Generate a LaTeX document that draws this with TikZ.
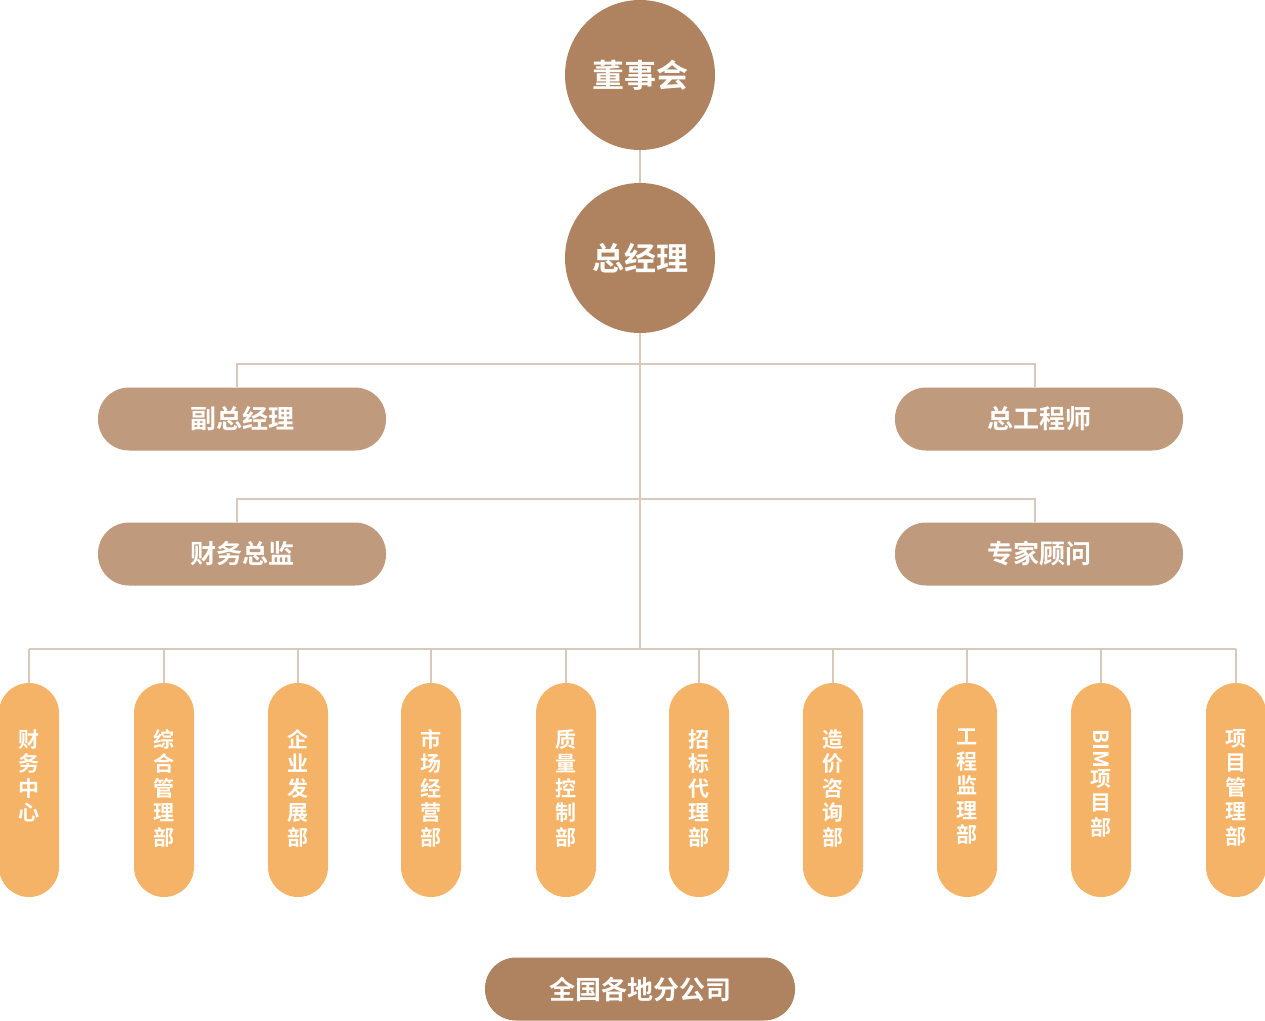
\documentclass[tikz,border=0pt]{standalone}
\usepackage{fontspec}
\newfontfamily\cjk{Noto Sans CJK SC}[BoldFont={Noto Sans CJK SC Bold}]
\usepackage{graphicx}
\definecolor{circ}{HTML}{AF8360}
\definecolor{pill}{HTML}{C09A7C}
\definecolor{org}{HTML}{F5B367}
\definecolor{ln}{HTML}{D9C8BC}
\begin{document}
\begin{tikzpicture}[x=1pt,y=-1pt,
 circ/.style={circle,fill=circ,minimum size=150pt,inner sep=0,text=white,font=\cjk\bfseries\fontsize{32}{32}\selectfont},
 pl/.style={rounded corners=31pt,fill=pill,minimum width=288pt,minimum height=63pt,text=white,font=\cjk\bfseries\fontsize{26}{26}\selectfont},
 vp/.style={rounded corners=30pt,fill=org,minimum width=60pt,minimum height=214pt},
 vt/.style={text=white,align=center,inner sep=0,font=\cjk\bfseries\fontsize{21}{24.5}\selectfont},
 con/.style={draw=ln,line width=1.5pt}]
\useasboundingbox (0,0) rectangle (1265,1020);
\node[circ] (a) at (640,75) {董事会};
\node[circ] (b) at (640,258) {总经理};
\draw[con] (a) -- (b);
\node[pl] (p1) at (242,419) {副总经理};
\node[pl] (p2) at (1039,419) {总工程师};
\node[pl] (p3) at (242,554) {财务总监};
\node[pl] (p4) at (1039,554) {专家顾问};
\coordinate (t) at (640,649);
\draw[con] (b) -- (t);
\draw[con] (p1.north -| 237,0) |- (640,364) -| (p2.north -| 1035,0);
\draw[con] (p3.north -| 237,0) |- (640,499) -| (p4.north -| 1035,0);
\foreach \i/\x/\t in {1/29/财\\务\\中\\心,2/164/综\\合\\管\\理\\部,3/298/企\\业\\发\\展\\部,4/431/市\\场\\经\\营\\部,5/566/质\\量\\控\\制\\部,6/699/招\\标\\代\\理\\部,7/833/造\\价\\咨\\询\\部,8/967/工\\程\\监\\理\\部,9/1101/\rotatebox{-90}{BIM}\\项\\目\\部,10/1236/项\\目\\管\\理\\部}{
 \node[vp] (v\i) at (\x,790) {};
 \node[vt,anchor=north] (w\i) at (\x,729) {\t};
 \draw[con] (v\i.north) -- (\x,649);
}
\draw[con] (29,649) -- (1236,649);
\node[pl,fill=circ,minimum width=310pt] (br) at (640,989) {全国各地分公司};
\end{tikzpicture}
\end{document}
